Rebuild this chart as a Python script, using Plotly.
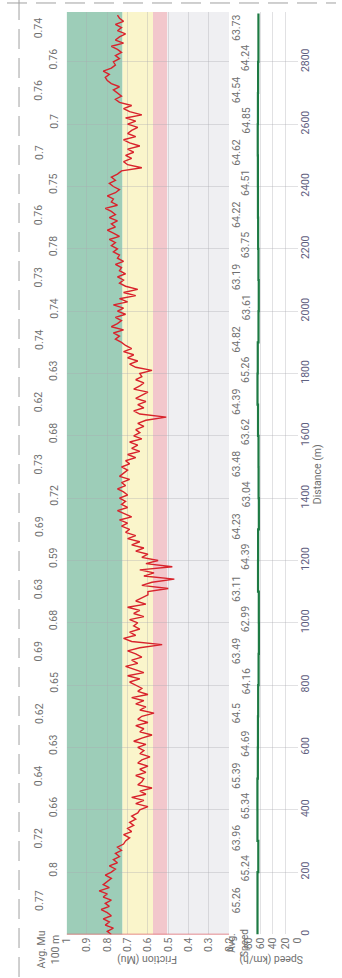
import plotly.graph_objects as go

# Friction trace, one reading every 10 m from 0 m to 2950 m
friction_step_m = 10
friction_mu = [
    0.78, 0.80, 0.77, 0.81, 0.79, 0.82, 0.78, 0.80, 0.83, 0.79,
    0.81, 0.78, 0.82, 0.80, 0.84, 0.79, 0.82, 0.80, 0.78, 0.81,
    0.78, 0.76, 0.79, 0.75, 0.77, 0.74, 0.76, 0.73, 0.75, 0.72,
    0.71, 0.69, 0.72, 0.68, 0.70, 0.67, 0.69, 0.66, 0.68, 0.65,
    0.64, 0.60, 0.66, 0.62, 0.68, 0.61, 0.64, 0.58, 0.65, 0.63,
    0.62, 0.66, 0.61, 0.64, 0.60, 0.65, 0.63, 0.59, 0.64, 0.62,
    0.65, 0.61, 0.67, 0.63, 0.58, 0.64, 0.62, 0.66, 0.60, 0.65,
    0.63, 0.57, 0.64, 0.61, 0.66, 0.62, 0.68, 0.60, 0.65, 0.63,
    0.66, 0.69, 0.64, 0.70, 0.62, 0.67, 0.71, 0.65, 0.68, 0.63,
    0.66, 0.70, 0.64, 0.53, 0.68, 0.72, 0.66, 0.69, 0.64, 0.67,
    0.65, 0.69, 0.62, 0.67, 0.64, 0.70, 0.61, 0.66, 0.63, 0.60,
    0.60, 0.50, 0.63, 0.58, 0.47, 0.62, 0.57, 0.64, 0.48, 0.61,
    0.55, 0.63, 0.60, 0.66, 0.62, 0.68, 0.64, 0.70, 0.66, 0.71,
    0.69, 0.73, 0.70, 0.74, 0.68, 0.72, 0.75, 0.70, 0.73, 0.71,
    0.74, 0.70, 0.72, 0.75, 0.71, 0.73, 0.69, 0.74, 0.72, 0.70,
    0.73, 0.69, 0.71, 0.66, 0.70, 0.64, 0.68, 0.65, 0.69, 0.63,
    0.67, 0.64, 0.66, 0.62, 0.65, 0.61, 0.51, 0.64, 0.67, 0.62,
    0.65, 0.61, 0.66, 0.63, 0.60, 0.67, 0.64, 0.62, 0.66, 0.63,
    0.64, 0.58, 0.66, 0.69, 0.65, 0.70, 0.67, 0.72, 0.68, 0.71,
    0.73, 0.76, 0.74, 0.77, 0.72, 0.78, 0.75, 0.73, 0.76, 0.71,
    0.75, 0.72, 0.77, 0.70, 0.74, 0.66, 0.72, 0.65, 0.71, 0.74,
    0.72, 0.75, 0.71, 0.74, 0.73, 0.76, 0.72, 0.75, 0.74, 0.77,
    0.75, 0.78, 0.76, 0.79, 0.74, 0.77, 0.80, 0.76, 0.78, 0.75,
    0.79, 0.76, 0.78, 0.81, 0.75, 0.78, 0.77, 0.80, 0.76, 0.74,
    0.77, 0.79, 0.76, 0.78, 0.75, 0.73, 0.63, 0.70, 0.72, 0.68,
    0.71, 0.67, 0.70, 0.64, 0.69, 0.72, 0.66, 0.70, 0.68, 0.65,
    0.70, 0.66, 0.71, 0.63, 0.69, 0.72, 0.68, 0.74, 0.76, 0.73,
    0.75, 0.77, 0.74, 0.78, 0.80, 0.81, 0.79, 0.82, 0.78, 0.76,
    0.77, 0.74, 0.76, 0.73, 0.75, 0.78, 0.72, 0.76, 0.74, 0.71,
    0.75, 0.73, 0.76, 0.72, 0.74, 0.75,
]
friction_dist = [i * friction_step_m for i in range(len(friction_mu))]

# Average Mu for each 100 m section, first section upward
avg_mu_100m = [
    "0.77", "0.8", "0.72", "0.66", "0.64", "0.63", "0.62", "0.65", "0.69", "0.68",
    "0.63", "0.59", "0.69", "0.72", "0.73", "0.68", "0.62", "0.63", "0.74", "0.74",
    "0.73", "0.78", "0.76", "0.75", "0.7", "0.7", "0.76", "0.76", "0.74",
]

# Average speed (km/h) for each 100 m section
avg_speed_100m = [
    65.26, 65.24, 63.96, 65.34, 65.39, 64.69, 64.5, 64.16, 63.49, 62.99,
    63.11, 64.39, 64.23, 63.04, 63.48, 63.62, 64.39, 65.26, 64.82, 63.61,
    63.19, 63.75, 64.22, 64.51, 64.62, 64.85, 64.54, 64.24, 63.73,
]
run_end_m = 2955

# Friction classification bands (Mu)
band_edges = [1.0, 0.725, 0.575, 0.505, 0.2]
band_colors = ["#9dcdb8", "#faf5cb", "#f2c7cc", "#efeff2"]

friction_ticks = [1, 0.9, 0.8, 0.7, 0.6, 0.5, 0.4, 0.3, 0.2]
speed_ticks = [80, 60, 40, 20, 0]
distance_ticks = list(range(0, 2801, 200))

W, H = 342, 978
def px(x):
    return x / W
def py(y):
    return 1 - y / H

FONT = "Roboto"
GREY = "#707070"

fig = go.Figure()

fig.add_trace(go.Scatter(
    x=friction_mu, y=friction_dist, mode="lines",
    line=dict(color="#d8232c", width=1.4),
    xaxis="x", yaxis="y", hoverinfo="skip", showlegend=False,
))

speed_x = avg_speed_100m + [avg_speed_100m[-1]]
speed_y = [i * 100 for i in range(len(avg_speed_100m))] + [run_end_m]
fig.add_trace(go.Scatter(
    x=speed_x, y=speed_y, mode="lines", line_shape="vh",
    line=dict(color="#1d7a43", width=2.2),
    xaxis="x2", yaxis="y", hoverinfo="skip", showlegend=False,
))

shapes = []
for i, c in enumerate(band_colors):
    shapes.append(dict(type="rect", xref="x", yref="y domain",
                       x0=band_edges[i], x1=band_edges[i + 1], y0=0, y1=1,
                       fillcolor=c, line_width=0, layer="below"))
# start marker along 0 m
shapes.append(dict(type="line", xref="x", yref="y", x0=1.0, x1=0.2, y0=0, y1=0,
                   line=dict(color="#e06a70", width=1.2)))
# page edges (dashed)
shapes.append(dict(type="line", xref="paper", yref="paper", x0=0, x1=1,
                   y0=py(3), y1=py(3), line=dict(color="#a0a0a0", width=1, dash="20px,9px")))
shapes.append(dict(type="line", xref="paper", yref="paper", x0=px(12.5), x1=px(12.5),
                   y0=0, y1=1, line=dict(color="#a0a0a0", width=1, dash="20px,9px")))


def note(text, x, y, angle, size=10.5, yref="paper", color=GREY):
    return dict(text=text, xref="paper", yref=yref, x=x, y=y, showarrow=False,
                textangle=angle, xanchor="center", yanchor="middle",
                font=dict(family=FONT, size=size, color=color))


annotations = []
for k, label in enumerate(avg_mu_100m):
    annotations.append(note(label, px(33 if k % 2 == 0 else 48.5),
                            (k + 1) * 100 + 10, -90, yref="y"))
for k, v in enumerate(avg_speed_100m):
    annotations.append(note(f"{v:g}", px(238.5 if k % 2 == 0 else 248),
                            (k + 1) * 100 + 10, -90, yref="y"))

annotations += [
    note("Avg. Mu<br>100 m", px(43), py(950), -90),
    note("Avg.<br>Speed", px(240), py(944), -90, size=10),
    note("Friction (Mu)", px(145), py(961), 180),
    note("Speed (km/h)", px(275), py(961), 180),
    note("Distance (m)", px(323), py(475), -90),
]

grid = "rgba(170,170,175,0.35)"
fig.update_layout(
    width=W, height=H, margin=dict(l=0, r=0, t=0, b=0),
    paper_bgcolor="white", plot_bgcolor="rgba(0,0,0,0)",
    font=dict(family=FONT, size=10, color=GREY),
    shapes=shapes, annotations=annotations,
    xaxis=dict(domain=[px(62), px(231)], range=[1.0, 0.2], anchor="y",
               tickvals=friction_ticks, ticktext=[f"{t:g}" for t in friction_ticks],
               tickangle=-90, showgrid=True, gridcolor=grid, zeroline=False,
               showline=False, ticks="", tickfont=dict(size=10.5, color=GREY)),
    xaxis2=dict(domain=[px(251), px(302)], range=[80, 0], anchor="y",
                tickvals=speed_ticks, tickangle=-90, showgrid=True, gridcolor=grid,
                zeroline=False, showline=False, ticks="",
                tickfont=dict(size=10.5, color=GREY)),
    yaxis=dict(domain=[py(935.4), py(12)], range=[0, 2960], anchor="x2", side="right",
               tickvals=distance_ticks, tickangle=-90, showgrid=True, gridcolor=grid,
               zeroline=False, showline=False, ticks="",
               tickfont=dict(size=10.5, color="#5f6080")),
)

fig.write_html("out.html")
